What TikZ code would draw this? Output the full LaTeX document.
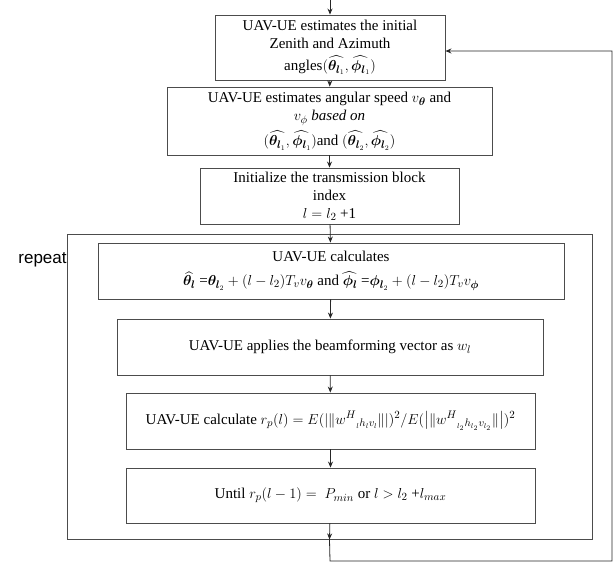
\documentclass[tikz,border=0pt]{standalone}
\usepackage{amsmath,bm}
\usepackage{fontspec}
\setmainfont{Liberation Serif}
\setsansfont{Liberation Sans}
\usetikzlibrary{arrows.meta}

\begin{document}
\begin{tikzpicture}[x=1pt, y=-1pt,
    box/.style={draw=black!70, line width=0.9pt, inner sep=0pt, align=center, font=\fontsize{15}{18}\selectfont},
    arr/.style={draw=black!85, line width=0.8pt, -{Stealth[length=6pt,width=5pt]}},
    wire/.style={draw=black!70, line width=0.9pt}]
    \useasboundingbox (0,0) rectangle (616,563);
    \coordinate (start) at (330,0);
    \node[box, minimum width=230pt, minimum height=65pt] (initial) at (330,47.5) {UAV-UE estimates the initial\\ Zenith and Azimuth\\[4pt] angles$(\widehat{\bm{\theta}_{\bm{l}_1}}, \widehat{\bm{\phi}_{\bm{l}_1}})$};
    \node[box, minimum width=325pt, minimum height=68pt] (speed) at (329.5,121) {UAV-UE estimates angular speed $v_{\bm{\theta}}$ and\\ $v_{\phi}$ $\mathit{based\ on}$\\[5pt] $(\widehat{\bm{\theta}_{\bm{l}_1}}, \widehat{\bm{\phi}_{\bm{l}_1}})$and $(\widehat{\bm{\theta}_{\bm{l}_2}}, \widehat{\bm{\phi}_{\bm{l}_2}})$};
    \node[box, minimum width=259pt, minimum height=56pt] (index) at (329.5,196) {Initialize the transmission block\\ index\\ $l = l_2$ +1};
    \node[wire, minimum width=525pt, minimum height=305pt, inner sep=0pt] (repeatframe) at (329.5,386.5) {};
    \node[font=\sffamily\fontsize{17}{20}\selectfont, inner sep=0pt] (repeatlabel) at (42.5,260) {repeat};
    \node[box, minimum width=466pt, minimum height=56pt] (angles) at (331,271) {UAV-UE calculates\\[6pt] $\widehat{\bm{\theta}_{\bm{l}}}$ =$\bm{\theta}_{\bm{l}_2} + (l-l_2)T_v v_{\bm{\theta}}$ and $\widehat{\bm{\phi}_{\bm{l}}}$ =$\bm{\phi}_{\bm{l}_2} + (l-l_2)T_v v_{\bm{\phi}}$};
    \node[box, minimum width=426pt, minimum height=56pt] (beam) at (330,347) {UAV-UE applies the beamforming vector as $w_l$};
    \node[box, minimum width=409pt, minimum height=56pt] (ratio) at (330.5,421) {UAV-UE calculate $r_p(l) = E(|\|{w^{H}}_{{}_{l}h_{l}v_{l}}\||)^2/E(\big|\|{w^{H}}_{{}_{l_2}h_{l_2}v_{l_2}}\|\big|)^2$};
    \node[box, minimum width=409pt, minimum height=55pt] (until) at (330.5,495.5) {Until $r_p(l-1) = \ P_{min}$ or $l > l_2$ +$l_{max}$};
    \coordinate (loopbottom) at (330,561);
    \coordinate (loopcorner) at (612,561);
    \coordinate (looptop) at (612,51);
    \draw[arr] (start) -- (initial);
    \draw[arr] (initial) -- (speed);
    \draw[arr] (speed) -- (index);
    \draw[arr] (index) -- (angles);
    \draw[arr] (angles) -- (beam);
    \draw[arr] (beam) -- (ratio);
    \draw[arr] (ratio) -- (until);
    \draw[arr] (until) -- (repeatframe.south);
    \draw[arr] (repeatframe.south) -- (loopbottom) -- (loopcorner) -- (looptop) -- (looptop -| initial.east);
\end{tikzpicture}
\end{document}
